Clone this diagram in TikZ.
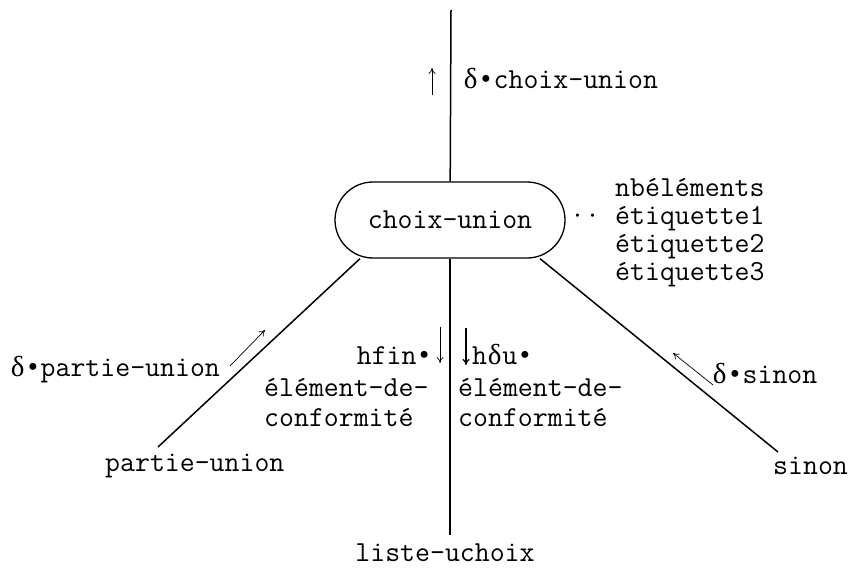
\documentclass[tikz,border=0pt]{standalone}
\usepackage{fontspec}
\newfontfamily\grkfont{Liberation Serif}
\usetikzlibrary{arrows.meta}
\newcommand\dl{\makebox[0.525em]{\grkfont δ}}
\newcommand\bu{\makebox[0.525em]{\grkfont •}}
\begin{document}
\begin{tikzpicture}[x=1pt,y=-1pt,
  lbl/.style={font=\fontsize{29}{34}\selectfont\ttfamily, inner sep=0pt},
  cbox/.style={draw, line width=1.3pt, rounded corners=38pt, minimum width=230pt,
    minimum height=76pt, inner sep=0pt, font=\fontsize{29}{34}\selectfont\ttfamily},
  main/.style={line width=1.5pt},
  small/.style={line width=0.7pt, -{To[length=6pt,width=7pt]}}]
\useasboundingbox (0,0) rectangle (851,575);
% central box
\node[cbox] (cu) at (450,220) {choix-union};
% end points of connectors
\coordinate (top) at (451,10);
\coordinate (lu-end) at (450,535);
\coordinate (pu-end) at (158,447);
\coordinate (si-end) at (778,452);
% connectors
\draw[main] (top) -- (cu);
\draw[main] (cu) -- (lu-end);
\draw[main] ([xshift=-90pt]cu.south) -- (pu-end);
\draw[main] ([xshift=90pt]cu.south) -- (si-end);
% labels
\node[lbl, anchor=base west] (dcu) at (463,88.5) {\dl\bu choix-union};
\node[lbl, anchor=base west] (dots) at (570,224) {··};
\node[lbl, anchor=base west] (r1) at (615,196.5) {nbéléments};
\node[lbl, anchor=base west] (r2) at (615,224.5) {étiquette1};
\node[lbl, anchor=base west] (r3) at (615,252.5) {étiquette2};
\node[lbl, anchor=base west] (r4) at (615,280.5) {étiquette3};
\node[lbl, anchor=base west] (dpu) at (10,376.5) {\dl\bu partie-union};
\node[lbl, anchor=base west] (pu) at (105,471.5) {partie-union};
\node[lbl, anchor=base east] (hfin) at (432,364.5) {hfin\bu};
\node[lbl, anchor=base west] (hdu) at (472,364.5) {h\dl u\bu};
\node[lbl, anchor=base west] (l1) at (264,396.5) {élément-de-};
\node[lbl, anchor=base west] (l2) at (264,426.5) {conformité};
\node[lbl, anchor=base west] (m1) at (458,396.5) {élément-de-};
\node[lbl, anchor=base west] (m2) at (458,426.5) {conformité};
\node[lbl, anchor=base west] (dsi) at (712,383.5) {\dl\bu sinon};
\node[lbl, anchor=base west] (si) at (773,474.5) {sinon};
\node[lbl, anchor=base] (lu) at (445,561.5) {liste-uchoix};
% small direction arrows
\coordinate (a1s) at (432,95); \coordinate (a1e) at (432,68);
\coordinate (a2s) at (440,327); \coordinate (a2e) at (440,363);
\coordinate (a3s) at (466,328); \coordinate (a3e) at (466,365);
\coordinate (a4s) at (230,366); \coordinate (a4e) at (265,330);
\coordinate (a5s) at (713,385); \coordinate (a5e) at (673,353);
\draw[small] (a1s) -- (a1e);
\draw[small] (a2s) -- (a2e);
\draw[small, line width=1.2pt] (a3s) -- (a3e);
\draw[small] (a4s) -- (a4e);
\draw[small] (a5s) -- (a5e);
\end{tikzpicture}
\end{document}
